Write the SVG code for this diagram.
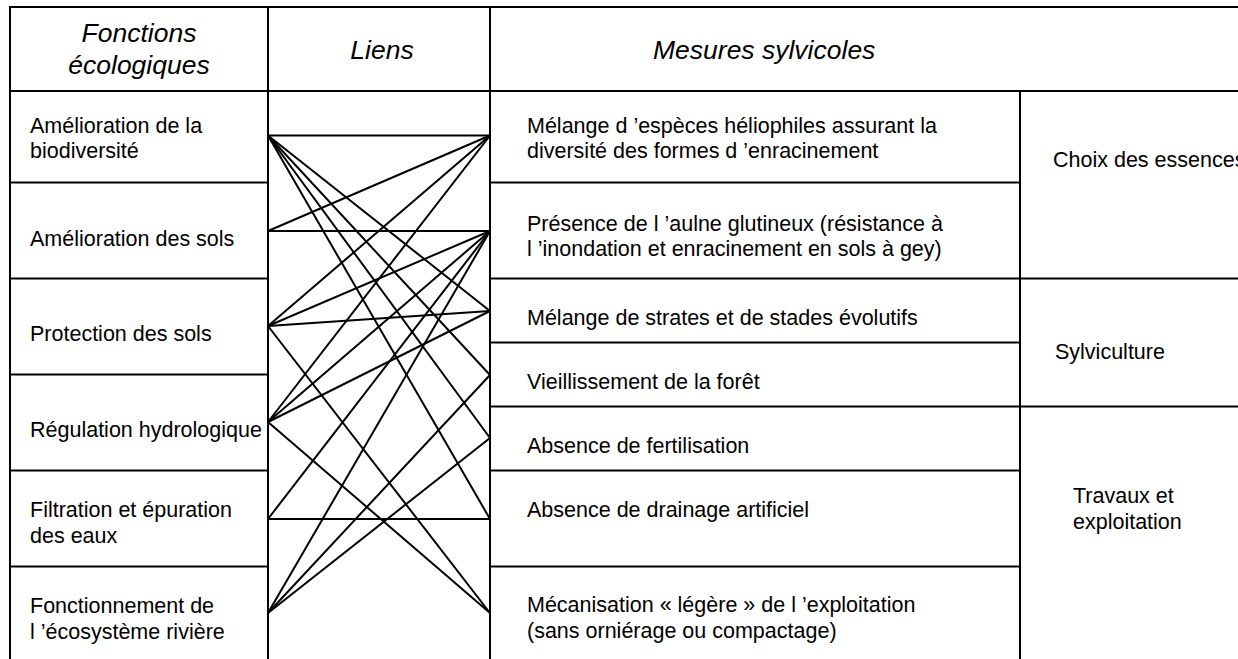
<svg xmlns="http://www.w3.org/2000/svg" width="1238" height="659" viewBox="0 0 1238 659">
<style>
.grid{stroke:#000;stroke-width:2;fill:none}
.link{stroke:#000;stroke-width:2;fill:none;stroke-linecap:round}
.hd{font-family:"Liberation Sans",Arial,sans-serif;font-size:26.5px;font-style:italic;fill:#000}
.tx{font-family:"Liberation Sans",Arial,sans-serif;font-size:21.5px;fill:#000}
</style>
<rect width="1238" height="659" fill="#fff"/>
<g id="table" class="grid">
<line x1="10" y1="7" x2="1238" y2="7"/>
<line x1="10" y1="91" x2="1238" y2="91"/>
<line x1="10" y1="6" x2="10" y2="659"/>
<line x1="268" y1="6" x2="268" y2="659"/>
<line x1="490" y1="6" x2="490" y2="659"/>
<line x1="1020" y1="91" x2="1020" y2="659"/>
<path d="M10 182.5H268M10 278.5H268M10 374.5H268M10 470.5H268M10 566.5H268"/>
<path d="M490 182.5H1020M490 278.5H1020M490 342.5H1020M490 406.5H1020M490 470.5H1020M490 566.5H1020"/>
<path d="M1020 278.5H1238M1020 406.5H1238"/>
</g>
<g id="headers">
<text class="hd" x="139" y="42" text-anchor="middle">Fonctions</text>
<text class="hd" x="139" y="74" text-anchor="middle">écologiques</text>
<text class="hd" x="382" y="59" text-anchor="middle">Liens</text>
<text class="hd" x="653" y="59">Mesures sylvicoles</text>
</g>
<g id="f1"><text class="tx" x="30" y="133">Amélioration de la</text><text class="tx" x="30" y="158">biodiversité</text></g>
<g id="f2"><text class="tx" x="30" y="246">Amélioration des sols</text></g>
<g id="f3"><text class="tx" x="30" y="341">Protection des sols</text></g>
<g id="f4"><text class="tx" x="30" y="437">Régulation hydrologique</text></g>
<g id="f5"><text class="tx" x="30" y="517">Filtration et épuration</text><text class="tx" x="30" y="543">des eaux</text></g>
<g id="f6"><text class="tx" x="30" y="613">Fonctionnement de</text><text class="tx" x="30" y="639">l ’écosystème rivière</text></g>
<g id="m1"><text class="tx" x="527" y="133">Mélange d ’espèces héliophiles assurant la</text><text class="tx" x="527" y="158">diversité des formes d ’enracinement</text></g>
<g id="m2"><text class="tx" x="527" y="231">Présence de l ’aulne glutineux (résistance à</text><text class="tx" x="527" y="256">l ’inondation et enracinement en sols à gey)</text></g>
<g id="m3"><text class="tx" x="527" y="325">Mélange de strates et de stades évolutifs</text></g>
<g id="m4"><text class="tx" x="527" y="389">Vieillissement de la forêt</text></g>
<g id="m5"><text class="tx" x="527" y="453">Absence de fertilisation</text></g>
<g id="m6"><text class="tx" x="527" y="517">Absence de drainage artificiel</text></g>
<g id="m7"><text class="tx" x="527" y="612">Mécanisation « légère » de l ’exploitation</text><text class="tx" x="527" y="638">(sans orniérage ou compactage)</text></g>
<g id="c1"><text class="tx" x="1053" y="167">Choix des essences</text></g>
<g id="c2"><text class="tx" x="1055" y="359">Sylviculture</text></g>
<g id="c3"><text class="tx" x="1073" y="503">Travaux et</text><text class="tx" x="1073" y="529">exploitation</text></g>
<g id="connectors" class="link">
<line x1="268" y1="135.5" x2="490" y2="135.5"/>
<line x1="268" y1="135.5" x2="490" y2="311"/>
<line x1="268" y1="135.5" x2="490" y2="375"/>
<line x1="268" y1="135.5" x2="490" y2="438"/>
<line x1="268" y1="135.5" x2="490" y2="519"/>
<line x1="268" y1="231" x2="490" y2="135.5"/>
<line x1="268" y1="231" x2="490" y2="231"/>
<line x1="268" y1="326" x2="490" y2="135.5"/>
<line x1="268" y1="326" x2="490" y2="231"/>
<line x1="268" y1="326" x2="490" y2="311"/>
<line x1="268" y1="326" x2="490" y2="613"/>
<line x1="268" y1="422" x2="490" y2="135.5"/>
<line x1="268" y1="422" x2="490" y2="231"/>
<line x1="268" y1="422" x2="490" y2="311"/>
<line x1="268" y1="422" x2="490" y2="613"/>
<line x1="268" y1="519" x2="490" y2="231"/>
<line x1="268" y1="519" x2="490" y2="519"/>
<line x1="268" y1="613" x2="490" y2="231"/>
<line x1="268" y1="613" x2="490" y2="375"/>
<line x1="268" y1="613" x2="490" y2="438"/>
</g>
</svg>
